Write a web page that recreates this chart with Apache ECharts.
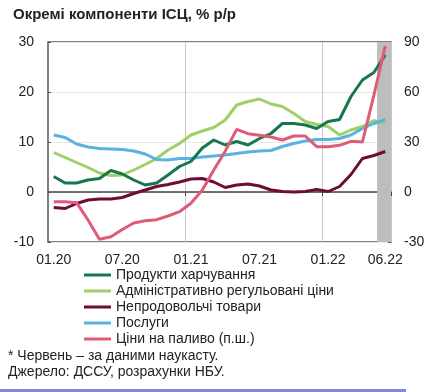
<!DOCTYPE html>
<html><head><meta charset="utf-8">
<script src="https://cdn.jsdelivr.net/npm/echarts@6/dist/echarts.min.js"></script>
<style>html,body{margin:0;padding:0;background:#fff}#c{width:428px;height:392px}</style>
</head><body><div id="c"></div>
<script>
const categories = ['01.20','02.20','03.20','04.20','05.20','06.20','07.20','08.20','09.20','10.20','11.20','12.20',
  '01.21','02.21','03.21','04.21','05.21','06.21','07.21','08.21','09.21','10.21','11.21','12.21',
  '01.22','02.22','03.22','04.22','05.22','06.22'];
const tickLabels = ['01.20','07.20','01.21','07.21','01.22','06.22'];
const gridMonths = ['01.21','01.22'];
const nowcastMonth = '06.22';
const food    = [3.1, 1.8, 1.8, 2.4, 2.7, 4.3, 3.6, 2.4, 1.4, 1.8, 3.4, 5.1, 6.1, 8.8, 10.4, 9.4, 10.1, 9.4, 10.7, 11.7, 13.7, 13.7, 13.4, 12.7, 14.1, 14.5, 19.1, 22.4, 23.9, 27.4];
const admin   = [7.9, 6.9, 5.9, 4.9, 3.8, 3.3, 3.4, 4.4, 5.5, 6.7, 8.4, 9.7, 11.4, 12.2, 12.9, 14.4, 17.4, 18.1, 18.6, 17.6, 17.1, 15.7, 14.1, 13.5, 13.1, 11.4, 12.4, 13.1, 14.3, 13.6];
const nonfood = [-3.1, -3.3, -2.3, -1.6, -1.4, -1.4, -1.1, -0.3, 0.4, 1.1, 1.5, 2.0, 2.6, 2.7, 2.0, 0.9, 1.4, 1.6, 1.2, 0.4, 0.1, 0.0, 0.1, 0.5, 0.1, 1.1, 3.5, 6.7, 7.3, 8.1];
const services= [11.4, 10.9, 9.6, 9.0, 8.7, 8.6, 8.5, 8.2, 7.6, 6.5, 6.4, 6.7, 6.7, 7.0, 7.2, 7.4, 7.7, 8.0, 8.2, 8.3, 9.1, 9.7, 10.2, 10.5, 10.5, 10.7, 11.4, 12.7, 13.7, 14.5];
const fuel    = [-5.8, -5.8, -6.4, -16.8, -28.4, -26.8, -22.5, -18.6, -17.2, -16.6, -14.4, -11.8, -6.8, 1.2, 13.2, 24.5, 37.6, 35.0, 34.0, 33.0, 31.2, 33.6, 33.6, 27.2, 27.2, 28.0, 30.4, 30.0, 58.0, 87.5];
const names = ['Продукти харчування','Адміністративно регульовані ціни','Непродовольчі товари','Послуги','Ціни на паливо (п.ш.)'];
const colors = ['#16784a','#9fcf69','#6e0b37','#5ab3df','#df5b78'];

const F = '"Liberation Sans", Arial, sans-serif';
const chart = echarts.init(document.getElementById('c'), null, {renderer:'canvas'});
const ls = (idx, data, yAxisIndex) => ({
  name: names[idx], type:'line', data, xAxisIndex:0, yAxisIndex, symbol:'none', smooth:false,
  lineStyle:{color:colors[idx], width:3}, itemStyle:{color:colors[idx]}, emphasis:{disabled:true}, z:3
});
const option = {
  animation:false,
  title:{text:'Окремі компоненти ІСЦ, % р/р', left:8, top:2, textStyle:{fontSize:15, fontWeight:'bold', color:'#222', fontFamily:F}},
  grid:{left:48, right:37, top:42, bottom:150, show:true, borderColor:'#555', borderWidth:1.5, backgroundColor:'transparent'},
  legend:{data:names, orient:'vertical', left:84, top:268, itemWidth:27, itemHeight:3, itemGap:2, icon:'rect', padding:0,
    textStyle:{fontSize:14, color:'#222', fontFamily:F}, selectedMode:false},
  xAxis:[
    {type:'category', data:categories, boundaryGap:true, position:'bottom',
     axisLine:{show:false, onZero:false}, axisTick:{show:false},
     axisLabel:{interval:(i,v)=>tickLabels.includes(v), fontSize:14, color:'#222', margin:11, fontFamily:F},
     splitLine:{show:true, interval:(i,v)=>gridMonths.includes(v), lineStyle:{color:'#c8c8c8', width:1}}},
    {type:'category', data:categories, boundaryGap:true, position:'bottom',
     axisLine:{show:true, onZero:true, onZeroAxisIndex:0, lineStyle:{color:'#444', width:1.5}},
     axisTick:{show:true, interval:(i,v)=>gridMonths.includes(v), length:4, lineStyle:{color:'#444'}},
     axisLabel:{show:false}, splitLine:{show:false}}
  ],
  yAxis:[
    {type:'value', position:'left', min:-10, max:30, interval:10,
     axisLine:{show:false}, axisTick:{show:true, inside:true, length:3, lineStyle:{color:'#555'}},
     axisLabel:{fontSize:14, color:'#222', margin:14, fontFamily:F},
     splitLine:{show:true, lineStyle:{color:'#e6e6e6', width:1}}},
    {type:'value', position:'right', min:-30, max:90, interval:30,
     axisLine:{show:false}, axisTick:{show:true, inside:true, length:3, lineStyle:{color:'#555'}},
     axisLabel:{fontSize:14, color:'#222', margin:13, fontFamily:F},
     splitLine:{show:false}}
  ],
  series:[
    {name:'nowcast', type:'custom', xAxisIndex:0, yAxisIndex:0, data:[[nowcastMonth, 0]], silent:true, z:1,
     renderItem:(params, api)=>{
       const cs = params.coordSys;
       const c = api.coord([api.value(0), 0]);
       const w = api.size([1, 0])[0];
       const x0 = c[0] - w * 0.72;
       const x1 = cs.x + cs.width;
       return {type:'rect', shape:{x:x0, y:cs.y, width:x1 - x0, height:cs.height}, style:{fill:'#bdbdbd'}};
     }},
    ls(1, admin, 0),
    ls(3, services, 0),
    ls(0, food, 0),
    ls(2, nonfood, 0),
    ls(4, fuel, 1)
  ],
  graphic:[
    {type:'text', left:8, top:349, style:{text:'* Червень – за даними наукасту.', fontSize:14, fill:'#222', fontFamily:F}},
    {type:'text', left:8, top:365, style:{text:'Джерело: ДССУ, розрахунки НБУ.', fontSize:14, fill:'#222', fontFamily:F}},
    {type:'rect', shape:{x:0, y:389, width:406, height:3}, style:{fill:'#8585d9'}}
  ]
};
chart.setOption(option);
</script>
</body></html>
